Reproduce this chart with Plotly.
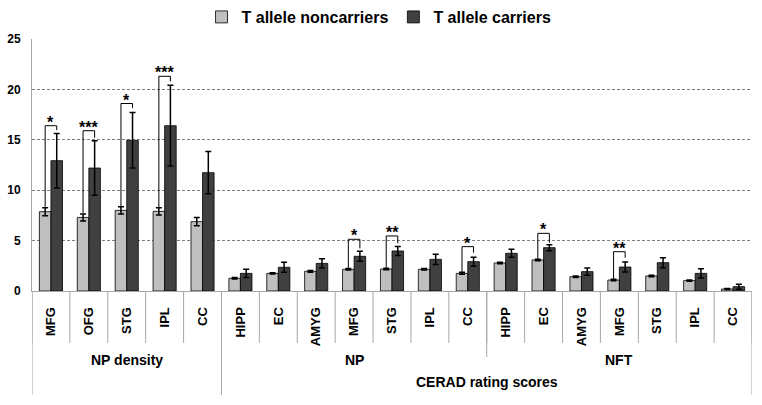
import plotly.graph_objects as go

categories = ["MFG", "OFG", "STG", "IPL", "CC",
              "HIPP", "EC", "AMYG", "MFG", "STG", "IPL", "CC",
              "HIPP", "EC", "AMYG", "MFG", "STG", "IPL", "CC"]
groups = ["NP density", "NP", "NFT"]
group_sizes = [5, 7, 7]
super_group = "CERAD rating scores"

noncarriers = [7.87, 7.3, 8.0, 7.9, 6.88,
               1.26, 1.75, 1.95, 2.15, 2.18, 2.15, 1.75,
               2.78, 3.08, 1.42, 1.09, 1.49, 1.03, 0.2]
noncarriers_err = [0.4, 0.35, 0.35, 0.35, 0.4,
                   0.07, 0.07, 0.08, 0.07, 0.07, 0.07, 0.1,
                   0.07, 0.07, 0.08, 0.07, 0.07, 0.07, 0.05]
carriers = [12.93, 12.2, 14.95, 16.4, 11.74,
            1.75, 2.35, 2.74, 3.44, 3.97, 3.14, 2.91,
            3.74, 4.3, 1.92, 2.38, 2.81, 1.75, 0.43]
carriers_err = [2.7, 2.7, 2.75, 4.0, 2.1,
                0.4, 0.5, 0.45, 0.5, 0.45, 0.5, 0.45,
                0.4, 0.3, 0.35, 0.5, 0.5, 0.45, 0.25]

# significance brackets: category index, bracket top, left-leg bottom, right-leg bottom, label
sig_index = [0, 1, 2, 3, 8, 9, 11, 13, 15]
sig_top = [16.4, 15.9, 18.6, 21.3, 5.13, 5.46, 4.4, 5.72, 3.9]
sig_left_bottom = [8.35, 7.75, 8.4, 8.3, 2.25, 2.3, 1.9, 3.2, 1.2]
sig_right_bottom = [15.95, 15.2, 18.15, 20.8, 4.23, 4.73, 3.8, 4.8, 3.3]
sig_labels = ["*", "***", "*", "***", "*", "**", "*", "*", "**"]

FONT = "Liberation Sans, Arial, sans-serif"
x = list(range(len(categories)))
bargap = 0.39
half = (1 - bargap) / 4  # offset of each bar centre from the category centre

fig = go.Figure()
fig.add_trace(go.Bar(
    x=x, y=noncarriers, name="T allele noncarriers",
    marker=dict(color="#BFBFBF", line=dict(color="#000000", width=0.8)),
    error_y=dict(type="data", array=noncarriers_err, color="#000000", thickness=1.5, width=3),
))
fig.add_trace(go.Bar(
    x=x, y=carriers, name="T allele carriers",
    marker=dict(color="#404040", line=dict(color="#000000", width=0.8)),
    error_y=dict(type="data", array=carriers_err, color="#000000", thickness=1.5, width=3),
))

shapes = []
annotations = []
for i, top, lb, rb, lab in zip(sig_index, sig_top, sig_left_bottom, sig_right_bottom, sig_labels):
    xl, xr = i - half, i + half
    shapes.append(dict(type="path", xref="x", yref="y",
                       path=f"M {xl},{lb} L {xl},{top} L {xr},{top} L {xr},{rb}",
                       line=dict(color="#000000", width=1)))
    annotations.append(dict(x=i, y=top, xref="x", yref="y", text=lab, showarrow=False,
                            yanchor="bottom", yshift=-7,
                            font=dict(family=FONT, size=16, color="#000000", weight="bold")))

line_col = "#A6A6A6"
# separators between categories (short)
for k in range(len(categories) + 1):
    shapes.append(dict(type="line", xref="x", yref="paper", x0=k - 0.5, x1=k - 0.5,
                       y0=0, y1=-0.206, line=dict(color=line_col, width=1)))
# group separators
bounds = [0]
for s in group_sizes:
    bounds.append(bounds[-1] + s)
long_b = [bounds[0], bounds[1], bounds[-1]]
for b in long_b:
    shapes.append(dict(type="line", xref="x", yref="paper", x0=b - 0.5, x1=b - 0.5,
                       y0=0, y1=-0.413, line=dict(color=line_col, width=1)))
shapes.append(dict(type="line", xref="x", yref="paper", x0=bounds[2] - 0.5, x1=bounds[2] - 0.5,
                   y0=0, y1=-0.262, line=dict(color=line_col, width=1)))

for g, a, b in zip(groups, bounds[:-1], bounds[1:]):
    annotations.append(dict(x=(a + b - 1) / 2, y=-0.274, xref="x", yref="paper", text=g,
                            showarrow=False, yanchor="middle",
                            font=dict(family=FONT, size=14, color="#000000", weight="bold")))
annotations.append(dict(x=(bounds[1] + bounds[-1] - 1) / 2, y=-0.36, xref="x", yref="paper",
                        text=super_group, showarrow=False, yanchor="middle",
                        font=dict(family=FONT, size=14, color="#000000", weight="bold")))

fig.update_layout(
    width=762, height=405,
    margin=dict(l=32, r=10, t=39, b=114, autoexpand=False),
    paper_bgcolor="white", plot_bgcolor="white",
    barmode="group", bargap=bargap, bargroupgap=0,
    font=dict(family=FONT, color="#000000"),
    showlegend=True,
    legend=dict(orientation="h", x=0.482, xanchor="center", y=1.0, yanchor="top",
                yref="container", font=dict(family=FONT, size=16, weight="bold"),
                itemwidth=30, traceorder="normal", bgcolor="rgba(0,0,0,0)"),
    shapes=shapes, annotations=annotations,
)
fig.update_xaxes(range=[-0.5, len(categories) - 0.5], tickmode="array", tickvals=x,
                 ticktext=categories, tickangle=-90, ticks="", ticklabelstandoff=10,
                 automargin=False,
                 tickfont=dict(family=FONT, size=13, color="#000000", weight="bold"),
                 showline=True, linecolor=line_col, linewidth=1, showgrid=False, zeroline=False)
fig.update_yaxes(range=[0, 25], dtick=5, showgrid=True, gridcolor="#7F7F7F", griddash="3px,2px",
                 gridwidth=1, showline=True, linecolor=line_col, linewidth=1, zeroline=False,
                 ticks="", ticklabelstandoff=8, automargin=False,
                 tickfont=dict(family=FONT, size=12, color="#000000", weight="bold"))

fig.write_html("out.html", config={"displayModeBar": False},
               post_script="document.body.style.margin='0';")
